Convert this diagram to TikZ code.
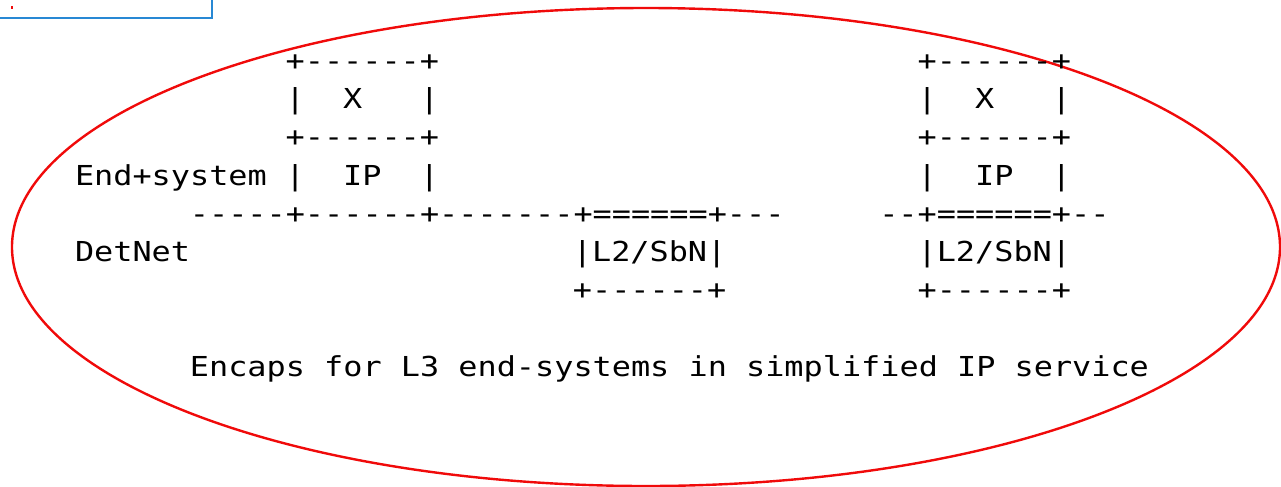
\documentclass[tikz,border=0pt]{standalone}
\usepackage{fontspec}
\setmonofont{DejaVu Sans Mono}[FakeStretch=1.16]
\definecolor{winblue}{RGB}{40,136,212}
\definecolor{ringred}{RGB}{240,10,10}

\begin{document}
\begin{tikzpicture}[x=0.75pt, y=-0.75pt,
asc/.style={anchor=base west, inner sep=0pt, outer sep=0pt, font=\ttfamily\fontsize{20.6}{24}\selectfont},
]
\useasboundingbox (0,0) rectangle (1281,486);

% window frame in the corner
\draw[draw=winblue, line width=1.5pt] (-10,-10) rectangle (212,18);
\draw[draw=ringred, line width=1pt] (12,6) -- (12,9);

\draw[draw=ringred, line width=1.8pt] (646,247) ellipse [x radius=634, y radius=239];

\begin{scope}[shift={(75,70.4)}, x=14.3625pt, y=-28.65pt]
\node[asc] (xltop)   at (11,0) {+------+};
\node[asc] (xrtop)   at (44,0) {+------+};
\node[asc] (xl)      at (11,1) {|~~X~~~|};
\node[asc] (xr)      at (44,1) {|~~X~~~|};
\node[asc] (ipltop)  at (11,2) {+------+};
\node[asc] (iprtop)  at (44,2) {+------+};
\node[asc] (endsys)  at (0,3)  {End+system};
\node[asc] (ipl)     at (11,3) {|~~IP~~|};
\node[asc] (ipr)     at (44,3) {|~~IP~~|};
\node[asc] (netl)    at (6,4)  {-----+------+-------+======+---};
\node[asc] (netr)    at (42,4) {--+======+--};
\node[asc] (detnet)  at (0,5)  {DetNet};
\node[asc] (sbnl)    at (26,5) {|L2/SbN|};
\node[asc] (sbnr)    at (44,5) {|L2/SbN|};
\node[asc] (sbnlbot) at (26,6) {+------+};
\node[asc] (sbnrbot) at (44,6) {+------+};
\node[asc] (caption) at (6,8)  {Encaps for L3 end-systems in simplified IP service};
\end{scope}

\end{tikzpicture}
\end{document}
